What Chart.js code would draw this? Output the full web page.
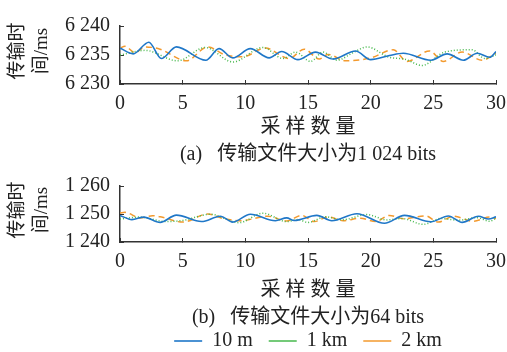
<!DOCTYPE html>
<html>
<head>
<meta charset="utf-8">
<script src="https://cdn.jsdelivr.net/npm/chart.js@4.4.0/dist/chart.umd.min.js"></script>
<style>
  html, body { margin: 0; padding: 0; background: #fff; overflow: hidden; width: 507px; height: 352px; }
  canvas { position: absolute; left: 0; }
  #c1 { top: 0; }
  #c2 { top: 160px; }
</style>
</head>
<body>
<canvas id="c1" width="507" height="168"></canvas>
<canvas id="c2" width="507" height="201"></canvas>
<script>
const seriesNames = ['10 m', '1 km', '2 km'];
const xTicks = [0, 5, 10, 15, 20, 25, 30];
const yTitle = ['传输时', '间/ms'];
const xTitle = '采 样 数 量';

// (a) 1 024 bits
const aYTicks = [6230, 6235, 6240];
const a10mX = [0, 1.05, 2.3, 3.3, 4.5, 6.85, 7.9, 9.0, 10.4, 11.9, 12.9, 14.2, 15.6, 17.0, 18.8, 20.0, 21.5, 22.6, 24.8, 26.1, 27.4, 28.5, 29.5, 30];
const a10mY = [6236.2, 6235.2, 6237.2, 6234.4, 6236.4, 6234.1, 6236.1, 6234.5, 6236.1, 6234.5, 6235.6, 6234.2, 6235.5, 6234.3, 6235.7, 6234.2, 6234.9, 6235.3, 6234.1, 6235.2, 6234.1, 6235.3, 6234.6, 6235.6];
const a1kmX = [0, 2.0, 4.6, 6.8, 9.0, 11.4, 13.0, 14.0, 15.2, 16.2, 17.3, 18.6, 19.7, 21.5, 22.7, 24.1, 25.9, 28.1, 29.1, 30];
const a1kmY = [6235.0, 6235.8, 6234.0, 6236.3, 6233.8, 6236.3, 6234.4, 6235.5, 6233.9, 6235.5, 6234.1, 6235.4, 6236.4, 6234.6, 6234.3, 6233.2, 6235.5, 6235.9, 6234.4, 6235.0];
const a2kmX = [0, 0.4, 1.2, 2.0, 3.2, 5.3, 7.0, 8.4, 9.8, 11.6, 13.5, 14.7, 15.9, 16.6, 18.0, 20.0, 21.8, 22.9, 24.7, 25.8, 27.3, 28.9, 30];
const a2kmY = [6236.2, 6236.5, 6235.4, 6236.4, 6236.0, 6234.0, 6236.4, 6235.0, 6234.7, 6236.2, 6234.4, 6236.0, 6234.3, 6235.1, 6234.0, 6234.5, 6235.9, 6233.9, 6235.7, 6233.9, 6235.5, 6234.1, 6235.3];

// (b) 64 bits
const bYTicks = [1240, 1250, 1260];
const b10mX = [0, 0.95, 1.9, 3.2, 4.5, 6.5, 8.0, 9.0, 10.4, 12.4, 13.3, 13.9, 15.7, 16.9, 18.9, 21.1, 22.7, 24.8, 26.2, 27.3, 28.6, 29.4, 30];
const b10mY = [1249.5, 1248.0, 1248.9, 1247.0, 1249.6, 1247.3, 1249.2, 1247.1, 1249.9, 1247.6, 1248.6, 1247.7, 1249.5, 1247.6, 1250.1, 1246.7, 1249.5, 1247.2, 1249.3, 1247.0, 1249.2, 1248.2, 1249.0];
const b1kmX = [0, 1.5, 3.7, 5.0, 7.2, 9.5, 11.4, 13.3, 14.2, 15.0, 16.4, 17.7, 19.7, 21.3, 22.5, 24.2, 25.6, 27.0, 28.5, 29.5, 30];
const b1kmY = [1248.2, 1248.9, 1247.3, 1247.7, 1249.9, 1246.9, 1250.3, 1247.3, 1248.0, 1247.0, 1249.0, 1247.9, 1249.8, 1247.9, 1248.4, 1246.3, 1248.4, 1247.8, 1248.7, 1247.4, 1248.5];
const b2kmX = [0, 0.4, 1.6, 2.6, 3.4, 5.0, 7.0, 8.3, 9.6, 11.8, 13.3, 14.5, 15.5, 16.6, 17.8, 19.2, 20.4, 21.5, 22.6, 24.4, 25.4, 26.6, 28.2, 29.5, 30];
const b2kmY = [1250.4, 1250.6, 1248.6, 1249.4, 1248.8, 1247.1, 1250.0, 1248.3, 1247.6, 1249.2, 1247.5, 1249.5, 1247.3, 1249.0, 1247.6, 1248.5, 1247.3, 1249.5, 1248.3, 1249.3, 1247.1, 1249.2, 1247.4, 1248.9, 1248.4];

const SERIF = "'Liberation Serif', 'Times New Roman', serif";
const MIXED = "'Liberation Serif', 'Noto Sans CJK SC', serif";
const INK = '#222';
const styles = [
  { color: '#1f77c8', width: 1.6, dash: [] },
  { color: '#46b84c', width: 1.5, dash: [1, 2] },
  { color: '#f39a2e', width: 1.5, dash: [6, 4] },
];
const pts = (xs, ys) => xs.map((x, i) => ({ x, y: ys[i] }));
const fmt = v => { const s = String(v); return s.length > 3 ? s.slice(0, -3) + ' ' + s.slice(-3) : s; };

// rotated two-line y title, drawn beside the y axis
const yTitlePlugin = {
  id: 'yTitle',
  afterDraw(chart) {
    const { ctx, chartArea } = chart;
    const cy = (chartArea.top + chartArea.bottom) / 2 - 4;
    ctx.save();
    ctx.font = `19px ${MIXED}`;
    ctx.fillStyle = INK;
    ctx.textAlign = 'center';
    ctx.textBaseline = 'middle';
    yTitle.forEach((t, i) => {
      ctx.save();
      ctx.translate(18 + i * 24, cy);
      ctx.rotate(-Math.PI / 2);
      ctx.fillText(t, 0, 0);
      ctx.restore();
    });
    ctx.restore();
  },
};

function makeChart(id, series, yTicks, caption, opts) {
  const datasets = series.map(([xs, ys], i) => ({
    label: seriesNames[i],
    data: pts(xs, ys),
    borderColor: styles[i].color,
    backgroundColor: styles[i].color,
    borderWidth: styles[i].width,
    borderDash: styles[i].dash,
    pointRadius: 0,
    cubicInterpolationMode: 'monotone',
    fill: false,
  }));
  return new Chart(document.getElementById(id), {
    type: 'line',
    data: { datasets },
    plugins: [yTitlePlugin],
    options: {
      responsive: false,
      animation: false,
      layout: { padding: { top: opts.top, right: 11, left: 0, bottom: 0 } },
      plugins: {
        tooltip: { enabled: false },
        legend: {
          display: opts.legend,
          position: 'bottom',
          fullSize: false,
          labels: {
            usePointStyle: true, pointStyle: 'line', pointStyleWidth: 28,
            padding: 16, color: INK, font: { family: SERIF, size: 20 },
          },
        },
      },
      scales: {
        x: {
          type: 'linear', min: 0, max: 30,
          afterBuildTicks: s => { s.ticks = xTicks.map(v => ({ value: v })); },
          afterFit: s => { s.height = opts.xh; s.paddingRight = 0; s.paddingLeft = 0; },
          grid: { drawOnChartArea: false, tickLength: -4, color: '#333', lineWidth: 1 },
          border: { color: '#333', width: 1.5 },
          ticks: { padding: 12, color: INK, font: { family: SERIF, size: 20 }, maxRotation: 0 },
          title: {
            display: true, text: [xTitle, caption], color: INK,
            font: { family: MIXED, size: 20, lineHeight: '27px' },
            padding: { top: 0, bottom: opts.pb },
          },
        },
        y: {
          min: yTicks[0], max: yTicks[yTicks.length - 1],
          afterBuildTicks: s => { s.ticks = yTicks.map(v => ({ value: v })); },
          afterFit: s => { s.width = 120; },
          grid: { drawOnChartArea: false, tickLength: -4, color: '#333', lineWidth: 1 },
          border: { color: '#333', width: 1.5 },
          ticks: { padding: 14, color: INK, font: { family: SERIF, size: 20 }, callback: fmt },
        },
      },
    },
  });
}

makeChart('c1', [[a10mX, a10mY], [a1kmX, a1kmY], [a2kmX, a2kmY]], aYTicks,
  '(a)   传输文件大小为1 024 bits', { top: 21, xh: 84, pb: -0.5, legend: false });
makeChart('c2', [[b10mX, b10mY], [b1kmX, b1kmY], [b2kmX, b2kmY]], bYTicks,
  '(b)   传输文件大小为64 bits', { top: 23, xh: 73, pb: -16, legend: true });
</script>
</body>
</html>
